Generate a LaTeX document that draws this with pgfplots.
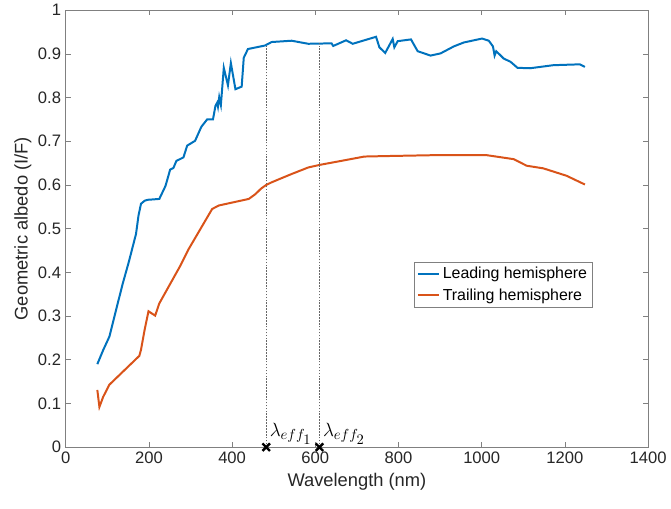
\documentclass[border=0pt]{standalone}
\usepackage{pgfplots}
\pgfplotsset{compat=1.18}
\usepackage{fontspec}
\setmainfont{Liberation Sans}
\definecolor{mblue}{rgb}{0,0.447,0.741}
\definecolor{morange}{rgb}{0.851,0.325,0.098}
\definecolor{axgray}{rgb}{0.15,0.15,0.15}
\definecolor{boxgray}{rgb}{0.5,0.5,0.5}
\begin{document}
\begin{tikzpicture}
\begin{axis}[
  scale only axis,
  width=438.75pt, height=329.25pt,
  xmin=0, xmax=1400, ymin=0, ymax=1,
  xtick={0,200,...,1400},
  ytick={0,0.1,...,1},
  yticklabels={0,0.1,0.2,0.3,0.4,0.5,0.6,0.7,0.8,0.9,1},
  /pgf/number format/assume math mode=true,
  /pgf/number format/set thousands separator={},
  tick align=inside,
  major tick length=4pt,
  axis line style={boxgray, line width=0.5pt},
  every tick/.style={boxgray, line width=0.5pt},
  ticklabel style={font=\fontsize{12.5}{15}\selectfont, text=axgray},
  xlabel={Wavelength (nm)},
  ylabel={Geometric albedo (I/F)},
  ylabel style={yshift=-2pt},
  label style={font=\fontsize{13.8}{16}\selectfont, text=axgray},
  clip=false,
  legend style={at={(0.598,0.4246)}, anchor=north west, draw=boxgray, fill=white,
    font=\fontsize{12}{14}\selectfont, cells={anchor=west}, inner sep=2pt,
    row sep=2pt},
  legend image code/.code={\draw[#1] (0pt,0pt) -- (16pt,0pt);},
]
\addplot[mblue, line width=1.5pt] coordinates {
(76,0.190) (90,0.222) (105,0.253) (120,0.31) (137,0.374) (152,0.425) (169,0.488) (175,0.53) (181,0.557) (190,0.564) (197,0.566) (225,0.568) (240,0.598) (251,0.635) (259,0.639) (266,0.655) (283,0.663) (292,0.690) (311,0.701) (326,0.733) (340,0.750) (354,0.750) (360,0.781) (364,0.788) (366,0.779) (369,0.801) (373,0.783) (380,0.868) (390,0.828) (397,0.879) (408,0.819) (423,0.825) (428,0.891) (438,0.911) (479,0.919) (495,0.927) (543,0.930) (583,0.923) (639,0.924) (643,0.918) (674,0.931) (690,0.923) (746,0.939) (754,0.915) (768,0.902) (786,0.934) (790,0.915) (798,0.929) (830,0.933) (846,0.906) (877,0.896) (901,0.901) (933,0.917) (957,0.926) (1001,0.935) (1017,0.930) (1027,0.917) (1031,0.896) (1035,0.906) (1053,0.889) (1069,0.882) (1086,0.868) (1116,0.867) (1172,0.874) (1236,0.876) (1248,0.870)
};
\addlegendentry{Leading hemisphere}
\addplot[morange, line width=1.5pt] coordinates {
(76,0.131) (81,0.092) (90,0.115) (105,0.143) (177,0.209) (181,0.223) (190,0.27) (199,0.311) (215,0.301) (225,0.329) (276,0.416) (296,0.454) (352,0.545) (368,0.553) (440,0.568) (456,0.579) (470,0.592) (482,0.600) (495,0.606) (515,0.614) (543,0.625) (583,0.640) (611,0.646) (662,0.655) (718,0.665) (766,0.666) (877,0.668) (1013,0.668) (1077,0.659) (1108,0.644) (1148,0.638) (1204,0.621) (1248,0.601)
};
\addlegendentry{Trailing hemisphere}
\addplot[forget plot, black!60, line width=0.4pt, dash pattern=on 1.2pt off 1pt] coordinates {(482,0) (482,0.919)};
\addplot[forget plot, black!60, line width=0.4pt, dash pattern=on 1.2pt off 1pt] coordinates {(610,0) (610,0.924)};
\addplot[forget plot, only marks, mark=x, mark size=4pt, black, line width=1.8pt] coordinates {(482,0) (610,0)};
\node[anchor=south west, inner sep=0pt, font=\fontsize{15}{17}\selectfont] at (axis cs:490,0.006) {$\lambda_{eff_{\scriptstyle 1}}$};
\node[anchor=south west, inner sep=0pt, font=\fontsize{15}{17}\selectfont] at (axis cs:618,0.006) {$\lambda_{eff_{\scriptstyle 2}}$};
\end{axis}
\path (current axis.south west) ++(-49.5pt,-46.5pt) coordinate (bbsw);
\path (current axis.north east) ++(15pt,3.75pt) coordinate (bbne);
\useasboundingbox (bbsw) rectangle (bbne);
\end{tikzpicture}
\end{document}
